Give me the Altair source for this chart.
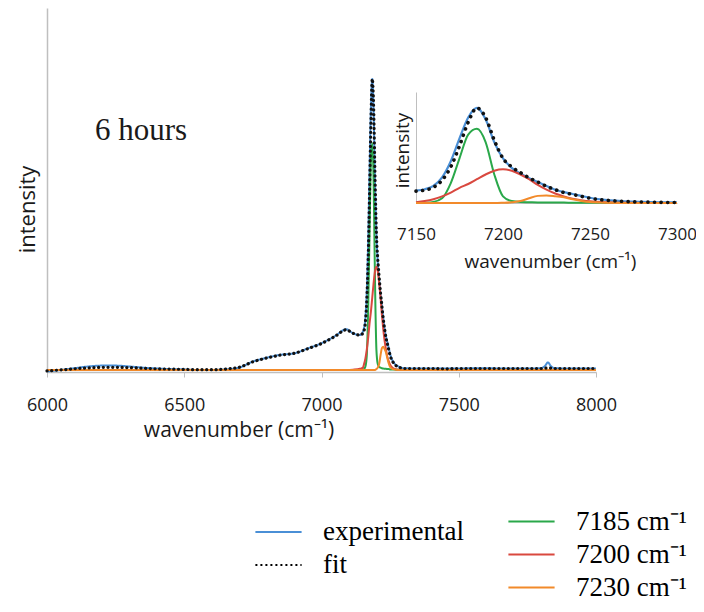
import altair as alt
import pandas as pd

# ---------------- data ----------------
wavenumber = [6000, 6050, 6100, 6150, 6200, 6250, 6300, 6350, 6400, 6450,
              6500, 6550, 6600, 6650, 6700, 6750, 6800, 6850, 6900, 6950,
              7000, 7050, 7090, 7115, 7140,
              7150, 7155, 7160, 7165, 7170, 7175, 7180, 7185, 7190, 7195,
              7200, 7205, 7210, 7215, 7220, 7225, 7230, 7235, 7240, 7245, 7250,
              7260, 7270, 7280, 7290, 7300,
              7350, 7400, 7450, 7500, 7550, 7600, 7650, 7700, 7750, 7800,
              7815, 7825, 7835, 7850,
              7900, 7950, 8000]

experimental = [-0.005, 0.0, 0.006, 0.012, 0.015, 0.015, 0.012, 0.008, 0.005, 0.003,
                0.002, 0.0, 0.0, 0.002, 0.008, 0.029, 0.042, 0.052, 0.057, 0.074,
                0.092, 0.117, 0.14, 0.126, 0.12,
                0.13, 0.145, 0.18, 0.27, 0.44, 0.68, 0.90, 1.0, 0.88, 0.64,
                0.47, 0.37, 0.31, 0.26, 0.22, 0.18, 0.14, 0.115, 0.095, 0.075, 0.055,
                0.03, 0.018, 0.012, 0.008, 0.006,
                0.005, 0.005, 0.005, 0.005, 0.006, 0.006, 0.005, 0.005, 0.005, 0.006,
                0.015, 0.026, 0.014, 0.006,
                0.005, 0.005, 0.005]

fit = [-0.003, 0.0, 0.004, 0.007, 0.009, 0.009, 0.008, 0.006, 0.004, 0.003,
       0.002, 0.001, 0.001, 0.003, 0.009, 0.028, 0.041, 0.051, 0.057, 0.073,
       0.091, 0.116, 0.138, 0.126, 0.12,
       0.125, 0.135, 0.165, 0.24, 0.38, 0.60, 0.85, 1.0, 0.90, 0.66,
       0.47, 0.38, 0.32, 0.265, 0.22, 0.175, 0.14, 0.11, 0.09, 0.07, 0.05,
       0.028, 0.016, 0.01, 0.007, 0.005,
       0.005, 0.005, 0.004, 0.005, 0.005, 0.005, 0.005, 0.005, 0.005, 0.005,
       0.006, 0.007, 0.006, 0.005,
       0.005, 0.005, 0.005]

comp_7185 = [0.0] * 25 + [
    0.0, 0.003, 0.012, 0.05, 0.21, 0.47, 0.72, 0.78, 0.64, 0.30,
    0.07, 0.02, 0.01, 0.008, 0.006, 0.005, 0.004, 0.004, 0.003, 0.003, 0.002,
    0.002, 0.001, 0.001, 0.0, 0.0] + [0.0] * 17

comp_7200 = [0.0] * 22 + [0.0, 0.001, 0.004] + [
    0.007, 0.02, 0.04, 0.07, 0.11, 0.16, 0.20, 0.25, 0.30, 0.34,
    0.355, 0.34, 0.30, 0.25, 0.19, 0.14, 0.10, 0.07, 0.045, 0.03, 0.018,
    0.007, 0.003, 0.001, 0.0, 0.0] + [0.0] * 17

comp_7230 = [0.0] * 25 + [
    0.0, 0.0, 0.0, 0.0, 0.0, 0.0, 0.0, 0.0, 0.0, 0.0,
    0.003, 0.008, 0.02, 0.05, 0.075, 0.08, 0.072, 0.06, 0.04, 0.022, 0.01,
    0.003, 0.001, 0.0, 0.0, 0.0] + [0.0] * 17

SERIES = ["experimental", "fit"]
COMPONENTS = ["7185 cm⁻¹", "7200 cm⁻¹", "7230 cm⁻¹"]

BLUE = "#4a8fd6"
COMP_COLORS = ["#2aa84a", "#d9483f", "#f28a2a"]

df = pd.DataFrame({
    "wn": wavenumber,
    "experimental": experimental,
    "fit": fit,
    COMPONENTS[0]: comp_7185,
    COMPONENTS[1]: comp_7200,
    COMPONENTS[2]: comp_7230,
})
exp_long = df.melt(id_vars="wn", value_vars=["experimental"],
                   var_name="series", value_name="intensity")
comp_long = df.melt(id_vars="wn", value_vars=COMPONENTS,
                    var_name="component", value_name="intensity")

W, H = 549, 364
SANS = "Open Sans"
SERIF = "Liberation Serif"
GRAY = "#bfbfbf"
TXT = "#1a1a1a"
INTERP = "monotone"

main_x = alt.Scale(domain=[6000, 8000], range=[0, W], nice=False, zero=False)
main_y = alt.Scale(domain=[-0.007, 1.244], range=[H, 0], nice=False, zero=False)
inset_x = alt.Scale(domain=[7150, 7300], range=[369, 630], nice=False, zero=False)
inset_y = alt.Scale(domain=[0, 1.168], range=[195, 84], nice=False, zero=False)

main_x_axis = alt.Axis(orient="bottom", values=[6000, 6500, 7000, 7500, 8000], format="d",
                       grid=False, domainColor=GRAY, domainWidth=1.5, tickColor=GRAY,
                       tickSize=5, labelFont=SANS, labelFontSize=18, labelColor=TXT,
                       labelBaseline="alphabetic", labelPadding=33, labelFlush=False,
                       title="wavenumber (cm⁻¹)", titleFont=SANS, titleFontSize=21,
                       titleFontWeight="normal", titleColor=TXT, titleX=191.5, titleY=64,
                       titleBaseline="alphabetic", titleAlign="center")
main_y_axis = alt.Axis(orient="left", grid=False, labels=False, ticks=False,
                       domainColor=GRAY, domainWidth=1.5,
                       title="intensity", titleFont=SANS, titleFontSize=22,
                       titleFontWeight="normal", titleColor=TXT, titleX=-13, titleY=201,
                       titleAngle=270, titleBaseline="alphabetic", titleAlign="center")
inset_x_axis = alt.Axis(orient="bottom", offset=-169, values=[7150, 7200, 7250, 7300],
                        format="d", grid=False, ticks=False, domainColor=GRAY,
                        labelFont=SANS, labelFontSize=17, labelColor=TXT,
                        labelBaseline="alphabetic", labelPadding=36, labelFlush=False,
                        title="wavenumber (cm⁻¹)", titleFont=SANS, titleFontSize=19,
                        titleFontWeight="normal", titleColor=TXT, titleX=503, titleY=64,
                        titleBaseline="alphabetic", titleAlign="center")
inset_y_axis = alt.Axis(orient="left", offset=-369, grid=False, labels=False, ticks=False,
                        domainColor=GRAY, title="intensity", titleFont=SANS,
                        titleFontSize=19, titleFontWeight="normal", titleColor=TXT,
                        titleX=-8, titleY=142, titleAngle=270,
                        titleBaseline="alphabetic", titleAlign="center")

leg_common = dict(title=None, orient="none", symbolType="M-1.4,0H1.4", symbolSize=1089,
                  symbolStrokeWidth=2, labelFont=SERIF, labelFontSize=27,
                  labelColor="black", labelOffset=27, rowPadding=2, padding=0)
leg_series = alt.Legend(legendX=214, legendY=506.5, **leg_common)
leg_comp = alt.Legend(legendX=467, legendY=496, **leg_common)

# ---- main panel ----
main_exp = alt.Chart(exp_long).mark_line(strokeWidth=2, interpolate=INTERP).encode(
    x=alt.X("wn:Q", scale=main_x, axis=main_x_axis),
    y=alt.Y("intensity:Q", scale=main_y, axis=main_y_axis),
    color=alt.Color("series:N", scale=alt.Scale(domain=SERIES, range=[BLUE, "black"]),
                    legend=leg_series),
    strokeDash=alt.StrokeDash("series:N", scale=alt.Scale(domain=SERIES, range=[[1, 0], [2, 3]]),
                              legend=leg_series),
)
main_comp = alt.Chart(comp_long).mark_line(strokeWidth=2, interpolate=INTERP).encode(
    x=alt.X("wn:Q", scale=main_x, axis=None),
    y=alt.Y("intensity:Q", scale=main_y, axis=None),
    color=alt.Color("component:N", scale=alt.Scale(domain=COMPONENTS, range=COMP_COLORS),
                    legend=leg_comp),
    detail="component:N",
)
main_fit = alt.Chart(df).mark_line(strokeWidth=3.2, color="#111111", strokeCap="round",
                                   strokeDash=[0.1, 4.6], interpolate=INTERP).encode(
    x=alt.X("wn:Q", scale=main_x, axis=None),
    y=alt.Y("fit:Q", scale=main_y, axis=None),
)

# ---- inset ----
inset_exp = alt.Chart(df).transform_filter(
    (alt.datum.wn >= 7150) & (alt.datum.wn <= 7300)
).mark_line(strokeWidth=2.2, color=BLUE, interpolate=INTERP).encode(
    x=alt.X("wn:Q", scale=inset_x, axis=inset_x_axis),
    y=alt.Y("experimental:Q", scale=inset_y, axis=inset_y_axis),
)
inset_comp = alt.Chart(comp_long).transform_filter(
    (alt.datum.wn >= 7150) & (alt.datum.wn <= 7300)
).mark_line(strokeWidth=2, interpolate=INTERP).encode(
    x=alt.X("wn:Q", scale=inset_x, axis=None),
    y=alt.Y("intensity:Q", scale=inset_y, axis=None),
    color=alt.Color("component:N", scale=alt.Scale(domain=COMPONENTS, range=COMP_COLORS),
                    legend=None),
    detail="component:N",
)
inset_fit = alt.Chart(df).transform_filter(
    (alt.datum.wn >= 7150) & (alt.datum.wn <= 7300)
).mark_line(strokeWidth=3.6, color="#111111", strokeCap="round",
            strokeDash=[0.1, 6.5], interpolate=INTERP).encode(
    x=alt.X("wn:Q", scale=inset_x, axis=None),
    y=alt.Y("fit:Q", scale=inset_y, axis=None),
)

label = alt.Chart(pd.DataFrame({"label": ["6 hours"]})).mark_text(
    font=SERIF, fontSize=31, color=TXT, align="left", baseline="alphabetic"
).encode(x=alt.value(48), y=alt.value(132), text="label:N")

chart = alt.layer(
    main_exp, main_comp, main_fit, inset_exp, inset_comp, inset_fit, label
).resolve_scale(
    x="independent", y="independent", color="independent", strokeDash="independent"
).properties(
    width=W, height=H,
    padding={"left": 39, "top": 0, "right": 100, "bottom": 232},
    autosize=alt.AutoSizeParams(type="none"),
    background="white",
).configure_view(stroke=None)

chart.save("out.html", embed_options={"renderer": "svg", "actions": False})
